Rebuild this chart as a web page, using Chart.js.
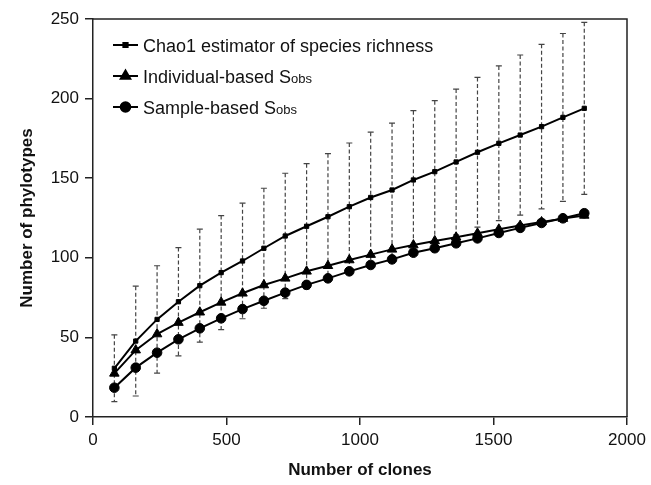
<!DOCTYPE html>
<html>
<head>
<meta charset="utf-8">
<script src="https://cdn.jsdelivr.net/npm/chart.js@4"></script>
<style>
  html, body { margin: 0; padding: 0; background: #fff; }
  #wrap { width: 651px; height: 485px; position: relative; }
</style>
</head>
<body>
<div id="wrap"><canvas id="chart" width="651" height="485"></canvas></div>
<script>
// values
const clones = [80, 160, 240, 320, 400, 480, 560, 640, 720, 800, 880, 960, 1040, 1120, 1200, 1280, 1360, 1440, 1520, 1600, 1680, 1760, 1840];
const chao1 = [30.6, 47.7, 61.3, 72.4, 82.5, 90.7, 98, 106, 113.7, 119.8, 125.8, 132.1, 137.9, 142.6, 148.9, 154.1, 160.2, 166.3, 171.9, 177.1, 182.4, 188.2, 193.9];
const chao1Err = [21, 34.5, 33.7, 34, 35.5, 35.8, 36.3, 37.7, 39.4, 39.3, 39.6, 40, 41, 42, 43.5, 44.6, 45.8, 47, 48.6, 50.3, 51.7, 52.7, 54];
const individual = [27.4, 42, 52.1, 59.3, 65.8, 72, 77.7, 82.9, 87.1, 91.5, 95, 98.6, 102, 105.3, 108, 110.6, 112.9, 115.4, 117.9, 120.3, 122.5, 124.6, 126.6];
const sample = [18.4, 31, 40.4, 48.8, 55.7, 62, 67.8, 73, 78.1, 83, 87.1, 91.5, 95.5, 99, 103.2, 106, 109.1, 112.2, 115.6, 118.8, 121.9, 124.8, 128];

const xTicks = [0, 500, 1000, 1500, 2000];
const yTicks = [0, 50, 100, 150, 200, 250];

const legendItems = [
  { text: "Chao1 estimator of species richness", sub: "", style: "rect", radius: 3 },
  { text: "Individual-based S", sub: "obs", style: "triangle", radius: 5.5 },
  { text: "Sample-based S", sub: "obs", style: "circle", radius: 4.8 },
];

const FONT = "'Liberation Sans', Arial, sans-serif";

const pts = (ys) => clones.map((x, i) => ({ x: x, y: ys[i] }));

// dashed error bars around Chao1, drawn under the lines
const errorBars = {
  id: "errorBars",
  beforeDatasetsDraw(chart) {
    const { ctx, scales: { x, y } } = chart;
    ctx.save();
    ctx.strokeStyle = "#444";
    ctx.lineWidth = 1.2;
    clones.forEach((c, i) => {
      const px = x.getPixelForValue(c);
      const top = y.getPixelForValue(chao1[i] + chao1Err[i]);
      const bot = y.getPixelForValue(chao1[i] - chao1Err[i]);
      ctx.setLineDash([4, 2.5]);
      ctx.beginPath();
      ctx.moveTo(px, top);
      ctx.lineTo(px, bot);
      ctx.stroke();
      ctx.setLineDash([]);
      ctx.beginPath();
      ctx.moveTo(px - 3, top); ctx.lineTo(px + 3, top);
      ctx.moveTo(px - 3, bot); ctx.lineTo(px + 3, bot);
      ctx.stroke();
    });
    ctx.restore();
  },
};

// box around the plot + legend with subscripts
const frameAndLegend = {
  id: "frameAndLegend",
  afterDraw(chart) {
    const { ctx, chartArea: a } = chart;
    ctx.save();
    ctx.strokeStyle = "#222";
    ctx.lineWidth = 1.5;
    ctx.beginPath();
    ctx.moveTo(a.left, a.top); ctx.lineTo(a.right, a.top); ctx.lineTo(a.right, a.bottom);
    ctx.stroke();

    legendItems.forEach((it, i) => {
      const cy = 45 + i * 31;
      ctx.strokeStyle = "#000";
      ctx.lineWidth = 2;
      ctx.beginPath();
      ctx.moveTo(113, cy); ctx.lineTo(138, cy);
      ctx.stroke();
      ctx.fillStyle = "#000";
      Chart.helpers.drawPoint(ctx, { pointStyle: it.style, radius: it.radius, borderWidth: 1 }, 125.5, cy);
      ctx.fill();
      ctx.textBaseline = "alphabetic";
      ctx.font = "18px " + FONT;
      ctx.fillStyle = "#111";
      ctx.fillText(it.text, 143, cy + 6.5);
      if (it.sub) {
        const w = ctx.measureText(it.text).width;
        ctx.font = "13px " + FONT;
        ctx.fillText(it.sub, 143 + w, cy + 7);
      }
    });
    ctx.restore();
  },
};

const lineSet = (label, data, style, radius) => ({
  label: label,
  data: pts(data),
  borderColor: "#000",
  backgroundColor: "#000",
  borderWidth: 2,
  pointStyle: style,
  pointRadius: radius,
  pointBorderWidth: 1,
  tension: 0,
});

new Chart(document.getElementById("chart"), {
  type: "line",
  data: {
    datasets: [
      lineSet("Chao1 estimator of species richness", chao1, "rect", 3),
      lineSet("Individual-based Sobs", individual, "triangle", 5.5),
      lineSet("Sample-based Sobs", sample, "circle", 4.8),
    ],
  },
  options: {
    responsive: false,
    animation: false,
    layout: { padding: { top: 19, right: 24, left: 0, bottom: 0 } },
    plugins: { legend: { display: false }, tooltip: { enabled: false } },
    scales: {
      x: {
        type: "linear",
        min: 0,
        max: 2000,
        afterBuildTicks: (s) => { s.ticks = xTicks.map((v) => ({ value: v })); },
        afterFit: (s) => { s.height = 68; },
        grid: { drawOnChartArea: false, tickLength: 8, color: "#222", lineWidth: 1.5 },
        border: { color: "#222", width: 1.5 },
        ticks: { color: "#111", font: { family: FONT, size: 17 }, padding: 5, maxRotation: 0, callback: (v) => String(v) },
        title: { display: true, text: "Number of clones", color: "#111", font: { family: FONT, size: 17, weight: "bold" }, padding: { top: 3 } },
      },
      y: {
        min: 0,
        max: 250,
        afterBuildTicks: (s) => { s.ticks = yTicks.map((v) => ({ value: v })); },
        afterFit: (s) => { s.width = 93; },
        grid: { drawOnChartArea: false, tickLength: 8, color: "#222", lineWidth: 1.5 },
        border: { color: "#222", width: 1.5 },
        ticks: { color: "#111", font: { family: FONT, size: 17 }, padding: 6, callback: (v) => String(v) },
        title: { display: true, text: "Number of phylotypes", color: "#111", font: { family: FONT, size: 17, weight: "bold" }, padding: { top: 17 } },
      },
    },
  },
  plugins: [errorBars, frameAndLegend],
});
</script>
</body>
</html>
